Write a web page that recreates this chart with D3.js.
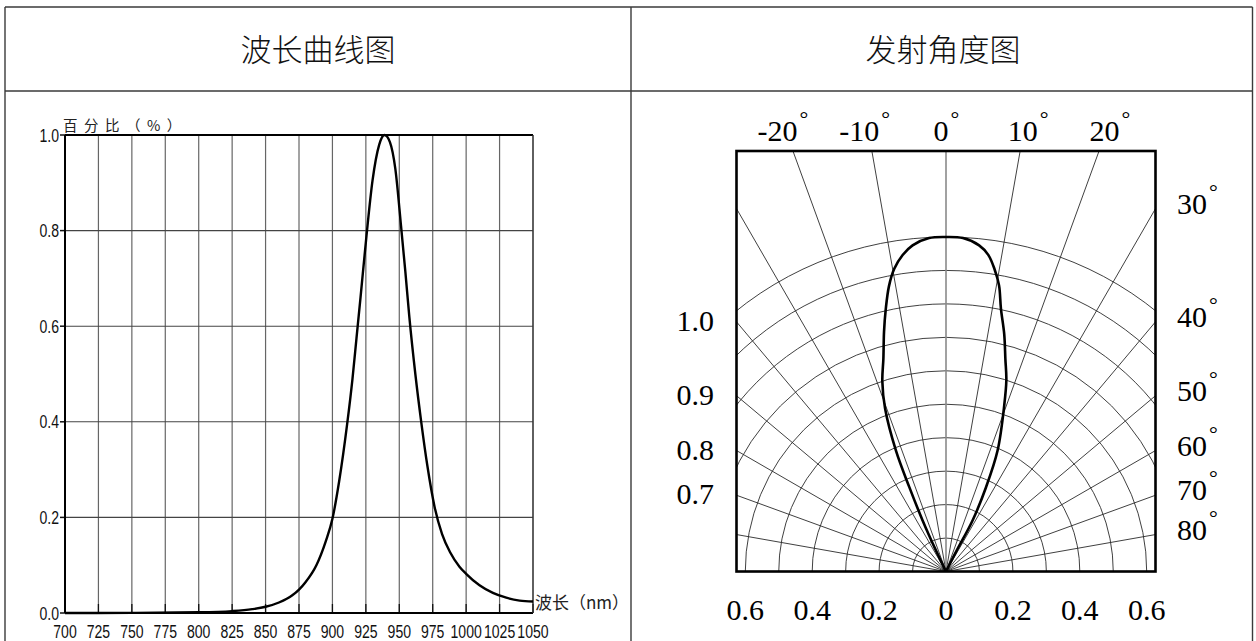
<!DOCTYPE html>
<html><head><meta charset="utf-8">
<script src="https://cdn.jsdelivr.net/npm/d3@7"></script>
<style>
html,body{margin:0;padding:0;background:#fff;}
svg{display:block;}
</style></head>
<body>
<svg id="chart" width="1256" height="641"></svg>
<script>
// ---------- data ----------
const panelTitles = ["波长曲线图", "发射角度图"];

// spectral curve
const wavelengths = [700, 750, 800, 825, 840, 850, 860, 870, 875, 880, 888, 895, 900, 905, 911, 915, 918, 921, 925.5, 930, 935, 939, 943, 947, 951.3, 954.5, 957.5, 962, 966.4, 971, 976.4, 982, 988, 995, 1000, 1010, 1020, 1030, 1040, 1050];
const relIntensity = [0.000, 0.0003, 0.0015, 0.004, 0.008, 0.013, 0.022, 0.037, 0.049, 0.065, 0.100, 0.150, 0.197, 0.275, 0.395, 0.490, 0.575, 0.660, 0.790, 0.905, 0.980, 1.000, 0.985, 0.930, 0.810, 0.715, 0.620, 0.500, 0.400, 0.308, 0.222, 0.165, 0.127, 0.097, 0.082, 0.058, 0.042, 0.032, 0.026, 0.024];
const xTicks = [700, 725, 750, 775, 800, 825, 850, 875, 900, 925, 950, 975, 1000, 1025, 1050];
const yTicks = [0.0, 0.2, 0.4, 0.6, 0.8, 1.0];
const yAxisTitle = "百分比（%）";
const xAxisTitle = "波长（nm）";

// radiation pattern (angle in degrees, relative intensity)
const lobeAngles = [-25, -25.5, -24.6, -23.5, -22.5, -20.5, -18.5, -16.4, -14.5, -12.9, -11.3, -9.7, -7.8, -5.85, -2.9, 0, 2.9, 5.8, 7.6, 9.1, 10.5, 11.8, 13.8, 15.6, 17.5, 19.3, 23.1, 25.4, 27.5, 27, 26];
const lobeValues = [0.0, 0.07, 0.168, 0.275, 0.391, 0.52, 0.60, 0.663, 0.74, 0.806, 0.87, 0.918, 0.955, 0.98, 0.998, 1.0, 0.998, 0.98, 0.955, 0.916, 0.87, 0.803, 0.73, 0.66, 0.60, 0.527, 0.393, 0.279, 0.172, 0.07, 0.0];
const spokeAngles = [-80, -70, -60, -50, -40, -30, -20, -10, 10, 20, 30, 40, 50, 60, 70, 80];
const ringValues = [0.1, 0.2, 0.3, 0.4, 0.5, 0.6, 0.7, 0.8, 0.9, 1.0];
const topAngleLabels = [-20, -10, 0, 10, 20];
const rightAngleLabels = [30, 40, 50, 60, 70, 80];
const leftValueLabels = ["1.0", "0.9", "0.8", "0.7"];
const leftValueAngles = [40, 50, 60, 70];
const bottomValueLabels = [-0.6, -0.4, -0.2, 0, 0.2, 0.4, 0.6];

// ---------- drawing ----------
const svg = d3.select("#chart");

// table frame
const frame = svg.append("g").attr("stroke", "#3a3a3a").attr("stroke-width", 1.4).attr("fill", "none");
frame.append("line").attr("x1", 5).attr("x2", 1252.5).attr("y1", 7).attr("y2", 7);
frame.append("line").attr("x1", 5).attr("x2", 1252.5).attr("y1", 91).attr("y2", 91);
frame.append("line").attr("x1", 5).attr("x2", 5).attr("y1", 7).attr("y2", 641);
frame.append("line").attr("x1", 631).attr("x2", 631).attr("y1", 7).attr("y2", 641);
frame.append("line").attr("x1", 1252.5).attr("x2", 1252.5).attr("y1", 7).attr("y2", 641);

svg.selectAll("text.title").data(panelTitles).join("text")
  .attr("class", "title")
  .attr("x", (d, i) => i === 0 ? 318 : 943)
  .attr("y", 61)
  .attr("text-anchor", "middle")
  .attr("font-family", "'Noto Sans CJK SC', sans-serif")
  .attr("font-weight", 300)
  .attr("font-size", 31)
  .attr("fill", "#111")
  .text(d => d);

// ---------- left: spectrum ----------
const x = d3.scaleLinear().domain([700, 1050]).range([65, 533]);
const y = d3.scaleLinear().domain([0, 1]).range([613, 135]);
const sans = "'Liberation Sans', Arial, sans-serif";
const L = svg.append("g");

L.append("g").selectAll("line").data(xTicks).join("line")
  .attr("x1", d => x(d)).attr("x2", d => x(d))
  .attr("y1", y(0)).attr("y2", y(1))
  .attr("stroke", "#666").attr("stroke-width", 1.2);
L.append("g").selectAll("line").data(yTicks).join("line")
  .attr("x1", x(700)).attr("x2", x(1050))
  .attr("y1", d => y(d)).attr("y2", d => y(d))
  .attr("stroke", "#444").attr("stroke-width", 1.1);

// inner x ticks
L.append("g").selectAll("line").data(xTicks).join("line")
  .attr("x1", d => x(d)).attr("x2", d => x(d))
  .attr("y1", y(0)).attr("y2", y(0) - 9)
  .attr("stroke", "#111").attr("stroke-width", 1.3);
// outer y ticks
L.append("g").selectAll("line").data(yTicks).join("line")
  .attr("x1", x(700) - 5).attr("x2", x(700))
  .attr("y1", d => y(d)).attr("y2", d => y(d))
  .attr("stroke", "#111").attr("stroke-width", 1.5);

// axes frame lines
L.append("line").attr("x1", x(700)).attr("x2", x(700)).attr("y1", y(0)).attr("y2", y(1)).attr("stroke", "#000").attr("stroke-width", 2);
L.append("line").attr("x1", x(700)).attr("x2", x(1050)).attr("y1", y(0)).attr("y2", y(0)).attr("stroke", "#000").attr("stroke-width", 2.2);
L.append("line").attr("x1", x(700)).attr("x2", x(1050)).attr("y1", y(1)).attr("y2", y(1)).attr("stroke", "#000").attr("stroke-width", 2);
L.append("line").attr("x1", x(1050)).attr("x2", x(1050)).attr("y1", y(0)).attr("y2", y(1)).attr("stroke", "#333").attr("stroke-width", 1.2);

// curve
const spec = wavelengths.map((w, i) => [w, relIntensity[i]]);
L.append("path").datum(spec)
  .attr("d", d3.line().x(d => x(d[0])).y(d => y(d[1])).curve(d3.curveMonotoneX))
  .attr("fill", "none").attr("stroke", "#000").attr("stroke-width", 2.4);

// tick labels (condensed)
L.append("g").selectAll("text").data(xTicks).join("text")
  .attr("transform", d => `translate(${x(d)},638) scale(0.76,1)`)
  .attr("text-anchor", "middle")
  .attr("font-family", sans).attr("font-size", 18.5).attr("fill", "#111")
  .text(d => d);
L.append("g").selectAll("text").data(yTicks).join("text")
  .attr("transform", d => `translate(59,${y(d) + 6.5}) scale(0.76,1)`)
  .attr("text-anchor", "end")
  .attr("font-family", sans).attr("font-size", 18.5).attr("fill", "#111")
  .text(d => d.toFixed(1));

L.append("text").attr("x", 63).attr("y", 131)
  .attr("font-family", "'Noto Sans CJK SC', sans-serif").attr("font-size", 14.5)
  .attr("letter-spacing", 6.5).attr("fill", "#222")
  .text(yAxisTitle);
L.append("text").attr("x", 535).attr("y", 609)
  .attr("font-family", "'Noto Sans CJK SC', sans-serif").attr("font-size", 17)
  .attr("fill", "#222")
  .text(xAxisTitle);

// ---------- right: polar ----------
const cx = 946, cy = 571.5;
const box = {x0: 736.5, x1: 1155.5, y0: 151, y1: 571.5};
const r = d3.scaleLinear().domain([0, 1]).range([0, 334.5]);
const serif = "'Liberation Serif', 'Times New Roman', serif";
const P = svg.append("g");

svg.append("defs").append("clipPath").attr("id", "polarClip")
  .append("rect").attr("x", box.x0).attr("y", box.y0)
  .attr("width", box.x1 - box.x0).attr("height", box.y1 - box.y0);

const grid = P.append("g").attr("clip-path", "url(#polarClip)");
grid.selectAll("circle").data(ringValues).join("circle")
  .attr("cx", cx).attr("cy", cy).attr("r", d => r(d))
  .attr("fill", "none").attr("stroke", "#2a2a2a").attr("stroke-width", 0.9);
const rad = a => a * Math.PI / 180;
grid.append("g").selectAll("line").data(spokeAngles).join("line")
  .attr("x1", cx).attr("y1", cy)
  .attr("x2", d => cx + 800 * Math.sin(rad(d)))
  .attr("y2", d => cy - 800 * Math.cos(rad(d)))
  .attr("stroke", "#2a2a2a").attr("stroke-width", 0.9);
grid.append("line").attr("x1", cx).attr("x2", cx).attr("y1", cy).attr("y2", box.y0)
  .attr("stroke", "#8a8a8a").attr("stroke-width", 1.6);

const lobe = lobeAngles.map((a, i) => [a, lobeValues[i]]);
P.append("path").datum(lobe)
  .attr("transform", `translate(${cx},${cy})`)
  .attr("d", d3.lineRadial().angle(d => rad(d[0])).radius(d => r(d[1])).curve(d3.curveCatmullRom.alpha(0.5)))
  .attr("fill", "none").attr("stroke", "#000").attr("stroke-width", 2.6);

P.append("rect").attr("x", box.x0).attr("y", box.y0)
  .attr("width", box.x1 - box.x0).attr("height", box.y1 - box.y0)
  .attr("fill", "none").attr("stroke", "#000").attr("stroke-width", 2.6);

const edgeY = a => cy - (box.x1 - cx) / Math.tan(rad(a));
const degText = (sel) => {
  sel.append("tspan").text(d => d.label);
  sel.append("tspan").attr("font-size", 22).attr("dx", 2).attr("dy", -15).text("°");
};

// top labels
const topX = d3.scaleLinear().domain([-20, 20]).range([783, 1110]);
P.append("g").selectAll("text").data(topAngleLabels.map(v => ({v, label: String(v)}))).join("text")
  .attr("x", d => topX(d.v)).attr("y", 141)
  .attr("text-anchor", "middle")
  .attr("font-family", serif).attr("font-size", 30).attr("fill", "#000")
  .call(degText);

// right labels
P.append("g").selectAll("text").data(rightAngleLabels.map(v => ({v, label: String(v)}))).join("text")
  .attr("x", 1177).attr("y", d => edgeY(d.v) + 5)
  .attr("font-family", serif).attr("font-size", 30).attr("fill", "#000")
  .call(degText);

// left labels
P.append("g").selectAll("text").data(leftValueLabels.map((label, i) => ({label, a: leftValueAngles[i]}))).join("text")
  .attr("x", 714).attr("y", d => edgeY(d.a) + 9)
  .attr("text-anchor", "end")
  .attr("font-family", serif).attr("font-size", 30).attr("fill", "#000")
  .text(d => d.label);

// bottom labels
P.append("g").selectAll("text").data(bottomValueLabels).join("text")
  .attr("x", d => cx + Math.sign(d) * r(Math.abs(d)))
  .attr("y", 620)
  .attr("text-anchor", "middle")
  .attr("font-family", serif).attr("font-size", 30).attr("fill", "#000")
  .text(d => d === 0 ? "0" : Math.abs(d).toFixed(1));
</script>
</body></html>
